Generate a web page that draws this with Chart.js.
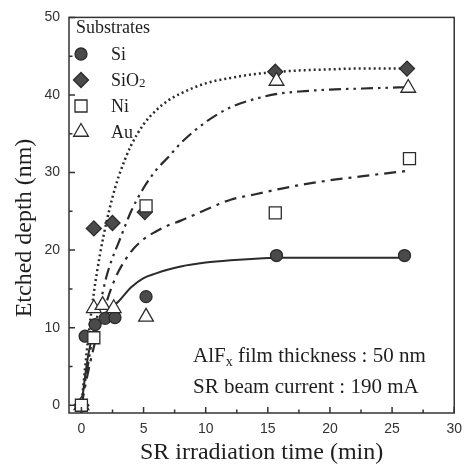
<!DOCTYPE html>
<html>
<head>
<meta charset="utf-8">
<script src="https://cdn.jsdelivr.net/npm/chart.js@4.4.1/dist/chart.umd.min.js"></script>
<style>
html, body { margin: 0; padding: 0; background: #fff; }
#wrap { width: 470px; height: 469px; }
</style>
</head>
<body>
<div id="wrap"><canvas id="chart"></canvas></div>
<script>
// measured etch depths (nm) vs irradiation time (min)
var siTime = [0, 0.3, 1.1, 1.9, 2.7, 5.2, 15.7, 26];
var siDepth = [0, 8.9, 10.4, 11.2, 11.3, 14, 19.3, 19.3];
var sio2Time = [0, 1, 2.5, 5.1, 15.6, 26.2];
var sio2Depth = [0, 22.8, 23.5, 24.9, 43, 43.4];
var niTime = [0, 1, 5.2, 15.6, 26.4];
var niDepth = [0, 8.7, 25.7, 24.8, 31.8];
var auTime = [0, 1, 1.7, 2.6, 5.2, 15.7, 26.3];
var auDepth = [0, 12.5, 12.9, 12.5, 11.4, 41.8, 40.9];

// fitted saturation curves
var fitTime = [0, 0.5, 1, 1.5, 2, 2.5, 3, 4, 5, 6, 7, 8, 10, 12, 14, 16, 18, 20, 22, 24, 26.2];
var siFit = [0, 6, 9.5, 11, 12, 12.7, 13.4, 15.2, 16.4, 17, 17.5, 17.9, 18.4, 18.7, 18.9, 19, 19, 19, 19, 19, 19];
var sio2Fit = [0, 8, 14.5, 19.5, 23.5, 26.8, 29.5, 33.5, 36.2, 38, 39.3, 40.2, 41.5, 42.2, 42.7, 43, 43.2, 43.3, 43.4, 43.4, 43.4];
var niFit = [0, 4, 7.5, 10.5, 13.2, 15.5, 17.3, 19.8, 21.4, 22.4, 23.2, 23.8, 25.2, 26.5, 27.2, 27.9, 28.5, 29, 29.4, 29.8, 30.2];
var auFit = [0, 5, 9.5, 13, 16.5, 19, 21, 25, 28, 30.3, 32, 33.8, 36.5, 38.4, 39.5, 40.2, 40.5, 40.7, 40.8, 40.9, 41];

var xTicks = [0, 5, 10, 15, 20, 25, 30];
var yTicks = [0, 10, 20, 30, 40, 50];

function pts(xs, ys) {
    return xs.map(function (x, i) { return { x: x, y: ys[i] }; });
}

var serif = "'Liberation Serif', 'Times New Roman', serif";
var sans = "'Liberation Sans', Arial, sans-serif";
var ink = '#2b2b2b';
var fillDark = '#4a4a4a';

// open markers sit on top of the filled ones
var markers = [
    { label: 'Si', style: 'circle', radius: 6, fill: fillDark, order: 2 },
    { label: 'SiO2', style: 'rectRot', radius: 7.5, fill: fillDark, order: 2 },
    { label: 'Ni', style: 'rect', radius: 8.5, fill: '#fff', order: 1 },
    { label: 'Au', style: 'triangle', radius: 8.5, fill: '#fff', order: 1 }
];

function pointSet(i, xs, ys) {
    var m = markers[i];
    return {
        label: m.label,
        data: pts(xs, ys),
        showLine: false,
        pointStyle: m.style,
        pointRadius: m.radius,
        pointBackgroundColor: m.fill,
        pointBorderColor: ink,
        pointBorderWidth: 1.3,
        order: m.order
    };
}

function fitSet(ys, dash, width) {
    return {
        data: pts(fitTime, ys),
        showLine: true,
        pointRadius: 0,
        borderColor: ink,
        borderWidth: width,
        borderDash: dash,
        cubicInterpolationMode: 'monotone',
        order: 5
    };
}

// box around the plot + inward tick marks
var frame = {
    id: 'frame',
    afterDraw: function (chart) {
        var c = chart.ctx, a = chart.chartArea;
        var sx = chart.scales.x, sy = chart.scales.y;
        c.save();
        c.strokeStyle = '#333';
        c.lineWidth = 1.5;
        c.strokeRect(a.left, a.top, a.right - a.left, a.bottom - a.top);
        c.beginPath();
        xTicks.forEach(function (v) {
            var p = sx.getPixelForValue(v);
            c.moveTo(p, a.bottom); c.lineTo(p, a.bottom - 6);
            if (v + 2.5 < sx.max) {
                var q = sx.getPixelForValue(v + 2.5);
                c.moveTo(q, a.bottom); c.lineTo(q, a.bottom - 3.5);
            }
        });
        yTicks.forEach(function (v) {
            var p = sy.getPixelForValue(v);
            c.moveTo(a.left, p); c.lineTo(a.left + 6, p);
            if (v + 5 < sy.max) {
                var q = sy.getPixelForValue(v + 5);
                c.moveTo(a.left, q); c.lineTo(a.left + 3.5, q);
            }
        });
        c.stroke();
        c.restore();
    }
};

// legend block, y title and beam notes
var notes = {
    id: 'notes',
    afterDraw: function (chart) {
        var c = chart.ctx;
        c.save();
        c.fillStyle = '#1e1e1e';
        c.textBaseline = 'alphabetic';
        c.font = '18px ' + serif;
        c.fillText('Substrates', 76, 33);

        var rows = [60, 86, 112, 138];
        markers.forEach(function (m, i) {
            var cy = rows[i] - 6;
            c.fillStyle = m.fill;
            c.strokeStyle = ink;
            c.lineWidth = 1.3;
            Chart.helpers.drawPoint(c, { pointStyle: m.style, radius: m.radius, rotation: 0, borderWidth: 1.3 }, 81, cy);
            c.fillStyle = '#1e1e1e';
            c.font = '18px ' + serif;
            if (m.label === 'SiO2') {
                c.fillText('SiO', 111, rows[i]);
                var w = c.measureText('SiO').width;
                c.font = '13px ' + serif;
                c.fillText('2', 111 + w, rows[i] + 1);
            } else {
                c.fillText(m.label, 111, rows[i]);
            }
        });

        c.font = '21px ' + serif;
        c.fillText('AlF', 193, 362);
        var w1 = c.measureText('AlF').width;
        c.font = '14px ' + serif;
        c.fillText('x', 193 + w1, 366);
        var w2 = c.measureText('x').width;
        c.font = '21px ' + serif;
        c.fillText(' film thickness : 50 nm', 193 + w1 + w2, 362);
        c.fillText('SR beam current : 190 mA', 193, 393);

        c.translate(25, 228);
        c.rotate(-Math.PI / 2);
        c.textAlign = 'center';
        c.textBaseline = 'middle';
        c.font = '24px ' + serif;
        c.fillText('Etched depth (nm)', 0, 0);
        c.restore();
    }
};

var ctx = document.getElementById('chart').getContext('2d');
var chart = new Chart(ctx, {
    type: 'scatter',
    data: {
        datasets: [
            pointSet(0, siTime, siDepth),
            pointSet(1, sio2Time, sio2Depth),
            pointSet(2, niTime, niDepth),
            pointSet(3, auTime, auDepth),
            fitSet(siFit, [], 2),
            fitSet(sio2Fit, [2, 3], 2.5),
            fitSet(niFit, [12, 6, 3, 6], 2.2),
            fitSet(auFit, [12, 5, 2.5, 5, 2.5, 5], 2.2)
        ]
    },
    options: {
        responsive: true,
        maintainAspectRatio: false,
        animation: false,
        layout: { padding: { top: 17, right: 9, left: 0, bottom: 0 } },
        plugins: {
            legend: { display: false },
            tooltip: { enabled: false }
        },
        scales: {
            x: {
                type: 'linear',
                min: -1,
                max: 30,
                grid: { display: false, drawTicks: false },
                border: { display: false },
                ticks: {
                    padding: 8,
                    color: '#333',
                    font: { family: sans, size: 14 }
                },
                title: {
                    display: true,
                    text: 'SR irradiation time (min)',
                    color: '#1e1e1e',
                    font: { family: serif, size: 24 },
                    padding: { top: 0, bottom: 2 }
                },
                afterBuildTicks: function (s) {
                    s.ticks = xTicks.map(function (v) { return { value: v }; });
                },
                afterFit: function (s) { s.height = 56; }
            },
            y: {
                type: 'linear',
                min: -1,
                max: 50,
                grid: { display: false, drawTicks: false },
                border: { display: false },
                ticks: {
                    padding: 9,
                    color: '#333',
                    font: { family: sans, size: 14 }
                },
                afterBuildTicks: function (s) {
                    s.ticks = yTicks.map(function (v) { return { value: v }; });
                },
                afterFit: function (s) { s.width = 69; }
            }
        }
    },
    plugins: [frame, notes]
});
</script>
</body>
</html>
